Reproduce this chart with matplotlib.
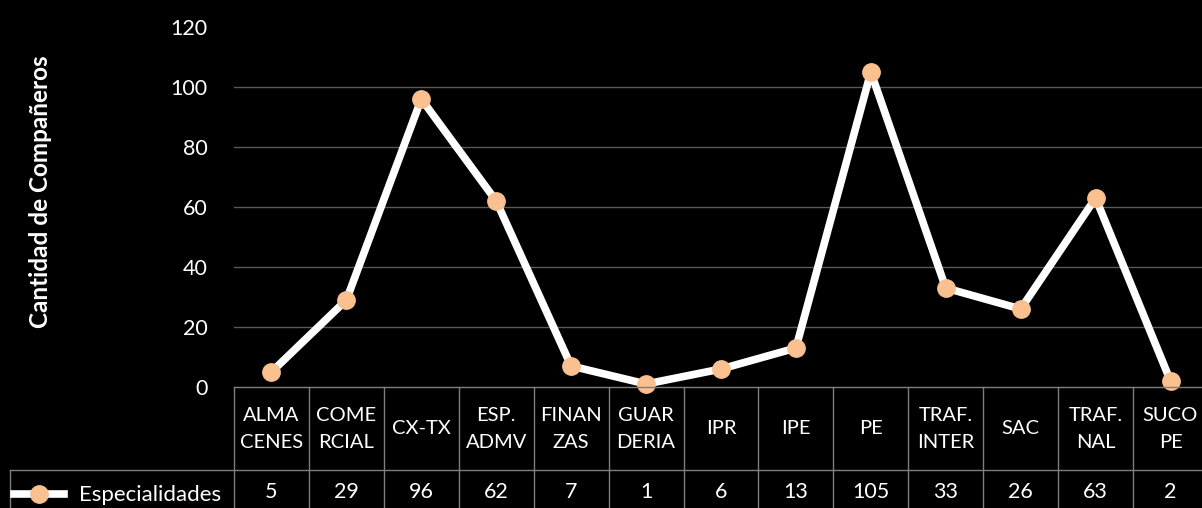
import matplotlib
matplotlib.use("Agg")
import matplotlib.pyplot as plt
from matplotlib.lines import Line2D
from matplotlib.transforms import blended_transform_factory

categories = ["ALMA\nCENES", "COME\nRCIAL", "CX-TX", "ESP.\nADMV", "FINAN\nZAS",
              "GUAR\nDERIA", "IPR", "IPE", "PE", "TRAF.\nINTER", "SAC",
              "TRAF.\nNAL", "SUCO\nPE"]
values = [5, 29, 96, 62, 7, 1, 6, 13, 105, 33, 26, 63, 2]
series_name = "Especialidades"
y_ticks = [0, 20, 40, 60, 80, 100, 120]
y_label = "Cantidad de Compañeros"

W, H = 1202, 508
plt.rcParams['font.family'] = ['Lato', 'DejaVu Sans']
fig = plt.figure(figsize=(W / 100, H / 100), dpi=100, facecolor="black")

def fx(px):
    return px / W

def fy(py):
    return 1 - py / H

left_px, right_px, top_px, zero_px = 234, 1208, 27, 387
ax = fig.add_axes([fx(left_px), fy(zero_px), fx(right_px - left_px), (zero_px - top_px) / H])
ax.set_facecolor("black")
n = len(categories)
xs = list(range(n))
ax.set_xlim(-0.5, n - 0.5)
ax.set_ylim(0, 120)
for s in ax.spines.values():
    s.set_visible(False)
ax.set_yticks(y_ticks)
ax.set_yticklabels([str(t) for t in y_ticks], color="white", fontsize=15.5)
ax.tick_params(axis="y", length=0, pad=19)
ax.set_xticks([])
for t in y_ticks[1:-1]:
    ax.axhline(t, color="#595959", lw=1, zorder=1)

ax.plot(xs, values, color="white", lw=5.5, zorder=3, solid_joinstyle="round",
        solid_capstyle="round", clip_on=False)
ax.plot(xs, values, ls="none", marker="o", ms=12.5, mfc="#FAC090", mec="#FAC090",
        zorder=4, clip_on=False)

ax.set_ylabel(y_label, color="white", fontsize=17.5, fontweight="bold", labelpad=0)
ax.yaxis.set_label_coords((52 - left_px) / (right_px - left_px), (zero_px - 192) / (zero_px - top_px))

# data table
tr = blended_transform_factory(ax.transData, fig.transFigure)
gc = "#7f7f7f"
hdr_top, hdr_bot, tbl_bot = 387, 470, 510
fig.add_artist(Line2D([-0.5, n - 0.5], [fy(hdr_top)] * 2, transform=tr, color=gc, lw=1))
fig.add_artist(Line2D([fx(10), 1.0], [fy(hdr_bot)] * 2, transform=fig.transFigure, color=gc, lw=1))
for i in range(n + 1):
    fig.add_artist(Line2D([i - 0.5] * 2, [fy(hdr_top), fy(tbl_bot)], transform=tr, color=gc, lw=1))
fig.add_artist(Line2D([fx(10)] * 2, [fy(hdr_bot), fy(tbl_bot)], transform=fig.transFigure, color=gc, lw=1))

for i, (c, v) in enumerate(zip(categories, values)):
    fig.text(i, fy(429), c, transform=tr, ha="center", va="center", color="white",
             fontsize=14.5, linespacing=1.7)
    fig.text(i, fy(492), str(v), transform=tr, ha="center", va="center", color="white",
             fontsize=15.5)

# legend key
fig.add_artist(Line2D([fx(14), fx(64)], [fy(494)] * 2, transform=fig.transFigure,
                      color="white", lw=5.5))
fig.add_artist(Line2D([fx(39)], [fy(494)], transform=fig.transFigure, ls="none",
                      marker="o", ms=12.5, mfc="#FAC090", mec="#FAC090"))
fig.text(fx(79), fy(495), series_name, ha="left", va="center", color="white", fontsize=16)

fig.savefig("out.png", dpi=100, facecolor="black")
